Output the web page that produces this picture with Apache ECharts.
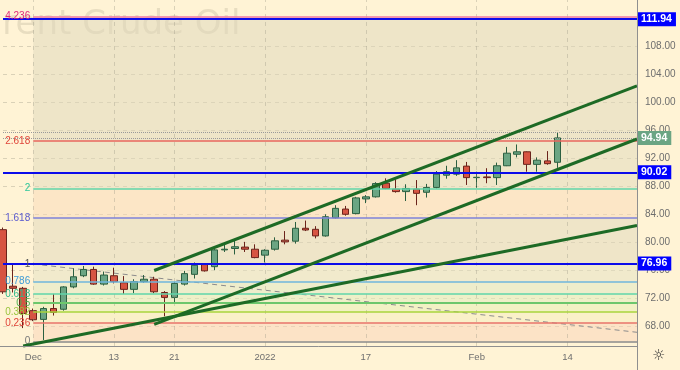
<!DOCTYPE html>
<html><head><meta charset="utf-8">
<script src="https://cdn.jsdelivr.net/npm/echarts@6/dist/echarts.min.js"></script>
<style>html,body{margin:0;padding:0;background:#FFF3D5}#c{width:680px;height:370px}</style>
</head><body><div id="c"></div>
<script>
// ---- data (bar index 0 = Nov 26, 2021; 55 = Feb 11, 2022) ----
const opens  = [81.8,73.7,73.4,70.2,68.95,70.5,70.4,73.6,75.2,76.1,74.0,75.2,74.2,73.25,74.35,74.7,72.8,72.1,74.0,75.4,76.8,76.5,78.9,79.1,79.3,79.0,78.15,79.0,80.3,80.15,82.0,81.85,80.9,83.5,84.75,84.1,86.2,86.5,88.45,87.6,87.25,87.6,87.15,87.85,89.6,89.75,90.9,89.25,89.35,89.25,90.95,92.6,92.95,91.15,91.65,91.45];
const closes = [72.9,73.4,69.8,68.9,70.5,69.95,73.6,75.05,76.1,74.0,75.3,74.35,73.25,74.35,74.7,72.9,72.1,74.1,75.5,76.7,75.9,78.9,79.0,79.35,79.0,77.8,78.85,80.2,80.05,82.0,81.75,80.9,83.65,84.85,84.0,86.35,86.5,88.4,87.7,87.25,87.7,87.0,87.85,89.75,90.1,90.65,89.25,89.3,89.25,90.95,92.75,92.95,91.15,91.75,91.25,94.94];
const lows   = [72.6,72.8,67.7,68.7,66.0,69.5,70.2,73.4,75.0,73.9,73.8,74.1,72.6,72.7,74.2,72.7,69.4,71.4,73.8,74.8,75.8,76.0,78.6,78.25,78.6,77.7,77.1,78.8,79.7,79.8,81.6,80.55,80.8,83.4,83.8,84.0,85.6,86.4,87.6,87.1,85.9,85.3,86.4,87.7,89.1,89.5,88.2,87.8,88.45,88.2,90.9,92.15,90.1,90.1,91.1,90.65];
const highs  = [82.1,76.8,73.6,70.5,70.75,72.6,73.7,76.25,76.6,76.5,75.8,76.35,75.15,74.7,75.3,75.05,73.0,74.3,75.9,77.1,77.0,79.1,79.8,80.2,80.05,79.7,79.0,80.7,81.6,82.9,83.1,82.3,84.0,85.3,85.2,86.5,86.75,88.6,89.15,89.0,88.3,88.9,88.35,90.2,90.95,91.75,91.5,90.1,90.6,91.4,93.65,94.0,93.0,92.15,93.05,95.75];

const xTickIdx  = [3, 11, 17, 26, 36, 47, 56];
const xTickText = ['Dec', '13', '21', '2022', '17', 'Feb', '14'];

const fibRatios = ['0', '0.236', '0.382', '0.5', '0.618', '0.786', '1', '1.618', '2', '2.618', '4.236'];
const fibPrices = [65.8, 68.4, 70.0, 71.3, 72.6, 74.4, 76.85, 83.5, 87.7, 94.53, 112.3];
const fibStartIdx = 3;
const fibDiagonal = [[3, 76.88], [62.9, 67.1]];

const blueLevels = [111.94, 90.02, 76.96];
const lastHigh = 95.75;
const lastClose = 94.94;

const upperChannel = [[15, 75.95], [62.9, 102.4]];
const lowerChannel = [[15, 68.24], [62.9, 94.78]];
const longSupport  = [[2, 65.13], [62.9, 82.4]];

// ---- axis extents ----
const X_MIN = 0, X_MAX = 62.9;
const Y_MIN = 64, Y_MAX = 114.69, Y_STEP = 4, PLOT_BOTTOM = 65.14;

// ---- styles ----
const fibLineColors  = ['#8a8a8a','#e8736a','#a9d43c','#6cc76c','#5fd6aa','#6fb6dc','#8a8a8a','#7f82d8','#5fd6aa','#e8665e','#f07aa5'];
const fibLabelColors = ['#777777','#e0453a','#9bc53d','#4caf50','#2db98a','#3d9bd6','#555555','#5a5acf','#2ec79a','#e0453a','#e0287a'];
const fibZoneColors  = ['rgba(249,211,183,0.5)','rgba(245,237,189,0.5)','rgba(229,239,179,0.5)','rgba(221,237,187,0.5)','rgba(221,231,193,0.5)','rgba(227,225,195,0.5)','rgba(223,215,187,0.5)','rgba(249,217,183,0.5)','rgba(223,217,187,0.5)','rgba(221,215,187,0.5)'];
const FONT = 'Liberation Sans';

const candleData = opens.map((o, i) => [i, o, closes[i], lows[i], highs[i]]);

const zones = [];
for (let i = 0; i < fibPrices.length - 1; i++) {
  zones.push([{ coord: [fibStartIdx, fibPrices[i]], itemStyle: { color: fibZoneColors[i] } },
              { coord: [X_MAX, fibPrices[i + 1]] }]);
}
const vGrid = xTickIdx.map(ix => [{ coord: [ix, PLOT_BOTTOM] }, { coord: [ix, Y_MAX] }]);

const fibLines = fibPrices.map((p, i) => [
  { coord: [fibStartIdx, p], lineStyle: { color: fibLineColors[i], width: i === 3 ? 2 : 1.5, type: 'solid' },
    label: { show: true, position: 'start', distance: 3, formatter: fibRatios[i], color: fibLabelColors[i],
             fontSize: 10, fontFamily: FONT } },
  { coord: [X_MAX, p] }
]);

function boxLabel(bg) {
  return { show: true, position: 'end', distance: 1, formatter: p => Number(p.value).toFixed(2),
           color: '#ffffff', backgroundColor: bg, fontWeight: 'bold', fontSize: 10.5, fontFamily: FONT,
           padding: [2, 4, 1, 3] };
}

const trendStyle = { color: '#1d6a25', width: 3 };
function trend(d) {
  return { type: 'line', data: d, symbol: 'none', silent: true, z: 6, lineStyle: trendStyle, animation: false };
}

const chart = echarts.init(document.getElementById('c'), null, { renderer: 'canvas' });
chart.setOption({
  animation: false,
  backgroundColor: '#FFF3D5',
  grid: { left: 1.7, right: 43, top: 0, bottom: 16.06, containLabel: false },
  xAxis: {
    type: 'value', min: X_MIN, max: X_MAX, interval: 1,
    axisLine: { show: false }, axisTick: { show: false }, splitLine: { show: false },
    axisLabel: {
      margin: -2, color: '#6e6e6e', fontSize: 9.5, fontFamily: FONT, showMaxLabel: false,
      formatter: v => { const k = xTickIdx.indexOf(v); return k >= 0 ? xTickText[k] : ''; }
    }
  },
  yAxis: {
    type: 'value', position: 'right', min: Y_MIN, max: Y_MAX, interval: Y_STEP,
    axisLine: { show: false }, axisTick: { show: false },
    axisLabel: { margin: 8, color: '#6e6e6e', fontSize: 10, fontFamily: FONT,
                 showMinLabel: false, showMaxLabel: false, formatter: v => v.toFixed(2) },
    splitLine: { show: true, showMinLine: false, showMaxLine: false,
                 lineStyle: { color: 'rgba(150,145,130,0.35)', type: [4, 4], width: 1 } }
  },
  graphic: [
    { type: 'text', z: 0, left: -21, top: 8,
      style: { text: 'Brent Crude Oil', font: '34px "DejaVu Sans"', fill: 'rgba(120,110,90,0.17)' } },
    { type: 'line', z: 100, shape: { x1: 637.5, y1: 0, x2: 637.5, y2: 370 }, style: { stroke: '#8f8f8f', lineWidth: 1 } },
    { type: 'line', z: 100, shape: { x1: 0, y1: 346.5, x2: 637.5, y2: 346.5 }, style: { stroke: '#8f8f8f', lineWidth: 1 } },
    { type: 'text', z: 100, left: 652, top: 349,
      style: { text: '\u263C', font: '15px "DejaVu Sans"', fill: '#333333' } }
  ],
  series: [
    { type: 'line', name: 'fibZones', data: [], z: 1, silent: true,
      markArea: { silent: true, data: zones },
      markLine: { silent: true, symbol: ['none', 'none'], label: { show: false },
                  lineStyle: { color: 'rgba(150,145,130,0.35)', type: [4, 4], width: 1 }, data: vGrid } },
    { type: 'line', name: 'fibLevels', data: [], z: 2, silent: true,
      markLine: { silent: true, symbol: ['none', 'none'], data: fibLines } },
    { type: 'line', name: 'fibDiagonal', data: fibDiagonal, symbol: 'none', silent: true, z: 3,
      lineStyle: { color: '#8c8c8c', width: 1, type: [5, 4] } },
    { type: 'candlestick', name: 'Brent', data: candleData, barWidth: 7, z: 4, clip: false,
      itemStyle: { color: '#6BA583', color0: '#D75442', borderColor: '#2b5f40', borderColor0: '#6b231b', borderWidth: 1 } },
    trend(upperChannel), trend(lowerChannel), trend(longSupport),
    { type: 'line', name: 'priceLines', data: [], z: 7, silent: true, clip: false,
      markLine: { silent: true, symbol: ['none', 'none'], data: [
        { yAxis: lastHigh, lineStyle: { color: '#9a9a9a', type: 'dotted', width: 1 }, label: { show: false } },
        { yAxis: lastClose, lineStyle: { color: '#9a9a9a', type: 'dotted', width: 1 }, label: boxLabel('#6BA583') },
        ...blueLevels.map(v => ({ yAxis: v, lineStyle: { color: '#0b0bea', type: 'solid', width: 2 }, label: boxLabel('#0000ff') }))
      ] } }
  ]
});
</script></body></html>
